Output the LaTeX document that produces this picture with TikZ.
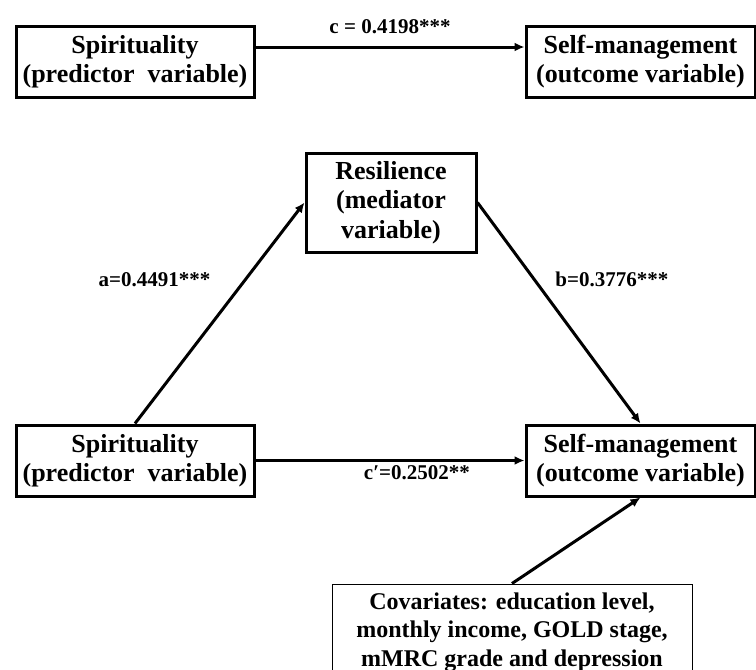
\documentclass[tikz,border=0pt]{standalone}
\usepackage{fontspec}
\setmainfont{Liberation Serif}
\usetikzlibrary{arrows.meta, positioning}

\begin{document}
\begin{tikzpicture}[
  x=1pt, y=-1pt,
  var/.style={rectangle, draw=black, line width=3pt, fill=white, minimum width=238pt, minimum height=71pt, inner sep=0pt, align=center, font=\fontsize{26}{29.5}\selectfont\bfseries},
  covbox/.style={rectangle, draw=black, line width=1pt, fill=white, minimum width=360pt, minimum height=96pt, inner sep=0pt, align=center, font=\fontsize{24}{28.5}\selectfont\bfseries},
  coef/.style={font=\fontsize{21}{25}\selectfont\bfseries},
  arrow/.style={-{Latex[length=10pt, width=9pt]}, line width=3pt}
]
\useasboundingbox (0,0) rectangle (756,670);

% total effect
\node[var] (pred1) at (135,61.5) {Spirituality\\(predictor~~variable)};
\node[var, minimum width=229pt] (out1) at (640.5,61.5) {Self-management\\(outcome variable)};

\draw[arrow] ([yshift=14.5pt]pred1.east) -- ([yshift=14.5pt]out1.west)
  node[coef, midway, above=8pt] {c = 0.4198***};

% mediation model
\node[var, minimum width=170pt, minimum height=99pt] (med) at (391,202.5) {Resilience\\(mediator\\variable)};
\node[var] (pred2) at (135,460.5) {Spirituality\\(predictor~~variable)};
\node[var, minimum width=229pt] (out2) at (640.5,460.5) {Self-management\\(outcome variable)};
\node[covbox] (cov) at (512,632) {Covariates: education level,\\monthly income, GOLD stage,\\mMRC grade and depression};

\draw[arrow] (pred2.north) -- (med.west) node[coef, pos=0.65, left=30pt] {a=0.4491***};
\draw[arrow] (med.east) -- (out2.north) node[coef, pos=0.35, right=16pt] {b=0.3776***};
\draw[arrow] (pred2.east) -- (out2.west) node[coef, pos=0.6, below=0pt] {c′=0.2502**};
\draw[arrow] (cov.north) -- (out2.south);

\end{tikzpicture}
\end{document}
